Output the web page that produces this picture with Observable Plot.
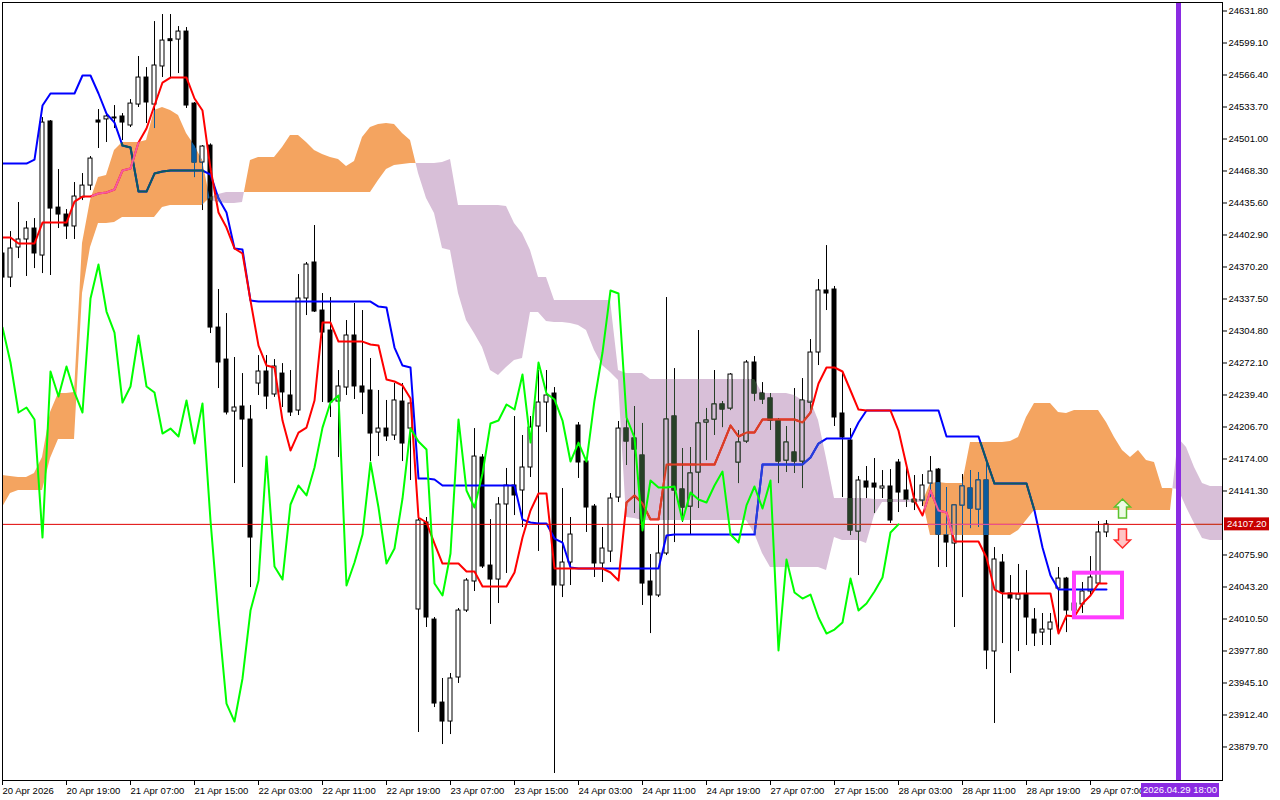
<!DOCTYPE html>
<html><head><meta charset="utf-8">
<script src="https://cdn.jsdelivr.net/npm/d3@7"></script>
<script src="https://cdn.jsdelivr.net/npm/@observablehq/plot@0.6"></script>
<style>html,body{margin:0;padding:0;background:#fff;overflow:hidden}#chart{width:1280px;height:800px}</style>
</head><body><div id="chart"></div>
<script>
// ---- Candles (H1), bar index 0..138 ----
const open = [24384.0,24359.4,24390.1,24398.3,24409.5,24381.9,24518.9,24430.9,24423.8,24411.6,
 24441.2,24453.4,24519.9,24521.0,24523.0,24524.0,24514.8,24536.2,24563.8,24536.2,
 24575.1,24603.0,24602.6,24610.8,24537.2,24477.0,24494.3,24308.3,24275.6,24222.5,
 24227.6,24214.3,24251.1,24263.4,24239.9,24261.3,24238.9,24223.5,24338.0,24374.8,
 24325.7,24305.3,24232.7,24247.0,24300.2,24248.1,24244.0,24201.0,24205.1,24198.0,
 24232.7,24205.1,24020.2,24109.1,24009.9,23925.1,23905.7,23950.7,24019.1,24048.8,
 24175.5,24065.1,24050.8,24127.5,24146.9,24141.8,24165.3,24207.2,24231.7,24240.9,
 24044.7,24068.2,24208.2,24171.4,24125.4,24067.2,24079.4,24134.6,24205.1,24194.9,
 24177.5,24048.8,24034.5,24077.4,24217.4,24142.8,24125.4,24160.2,24211.3,24214.3,
 24229.7,24225.6,24170.4,24191.9,24272.6,24240.9,24235.8,24213.3,24172.4,24180.6,
 24171.4,24231.7,24282.8,24346.2,24347.2,24220.5,24192.9,24099.9,24151.0,24148.9,
 24143.8,24145.9,24170.4,24141.8,24132.6,24131.6,24148.9,24163.2,24095.8,24087.6,
 24126.5,24143.8,24122.4,24152.0,23977.3,24068.2,24036.5,24030.4,24035.5,24009.9,
 23996.6,23999.7,24041.6,24051.8,24019.0,24025.3,24038.6,24046.7,24098.9];
const high = [24387.0,24406.4,24436.1,24416.7,24419.7,24522.9,24519.9,24469.8,24428.9,24456.5,
 24465.7,24483.1,24531.1,24527.0,24535.2,24527.0,24541.3,24585.3,24574.0,24621.0,
 24628.2,24628.2,24615.9,24614.9,24538.3,24494.3,24496.0,24347.2,24322.6,24277.7,
 24261.3,24228.6,24279.7,24279.7,24275.6,24271.5,24264.4,24362.5,24374.8,24412.6,
 24343.1,24339.0,24264.4,24315.5,24332.9,24325.7,24276.7,24244.0,24233.8,24251.1,
 24251.1,24233.8,24114.2,24114.2,24012.0,23949.7,23954.8,24021.2,24051.8,24205.1,
 24178.5,24112.1,24134.6,24164.3,24217.4,24198.0,24217.4,24264.4,24264.4,24247.0,
 24143.8,24114.2,24211.3,24173.5,24127.5,24104.0,24138.7,24212.3,24215.3,24227.6,
 24210.3,24076.4,24106.0,24339.0,24266.4,24184.7,24185.7,24305.3,24225.6,24264.4,
 24232.7,24261.3,24203.1,24274.6,24278.7,24252.1,24240.9,24215.3,24207.2,24246.0,
 24256.2,24296.1,24357.4,24392.1,24350.3,24261.3,24205.1,24156.1,24166.3,24174.5,
 24162.2,24163.2,24173.5,24169.4,24157.1,24158.1,24176.5,24164.3,24144.8,24126.5,
 24158.1,24162.2,24160.2,24169.4,24083.5,24076.4,24054.9,24066.2,24060.0,24021.2,
 24016.1,24016.1,24063.1,24053.0,24031.4,24047.8,24074.3,24110.1,24111.1];
const low = [24351.3,24349.2,24378.8,24360.5,24368.6,24363.5,24361.5,24409.5,24398.3,24398.3,
 24438.1,24448.3,24491.3,24497.4,24511.7,24499.4,24512.7,24533.2,24516.8,24511.7,
 24563.8,24563.8,24567.9,24532.2,24461.6,24427.9,24302.2,24246.0,24219.0,24148.9,
 24165.3,24042.6,24238.9,24224.5,24237.0,24226.6,24217.4,24218.4,24320.6,24323.7,
 24231.7,24216.4,24175.5,24238.9,24234.8,24219.4,24171.4,24176.5,24191.9,24192.9,
 24171.4,24152.0,23894.5,24001.8,23920.0,23882.2,23892.4,23944.6,24017.1,24038.6,
 24062.1,24004.9,24026.3,24057.0,24116.2,24104.0,24155.1,24079.5,24201.0,23852.6,
 24032.4,24044.7,24154.1,24098.9,24052.9,24047.8,24068.2,24129.5,24167.5,24118.3,
 24024.3,23995.6,24032.4,24075.3,24088.6,24109.1,24095.8,24123.4,24172.4,24198.0,
 24206.1,24223.5,24148.9,24189.8,24232.7,24229.7,24203.1,24148.9,24160.2,24159.2,
 24143.8,24220.5,24269.5,24325.7,24207.2,24134.6,24095.8,24054.9,24133.6,24118.3,
 24133.6,24108.1,24119.3,24124.4,24121.3,24125.4,24134.6,24063.1,24063.1,24001.8,
 24032.4,24102.9,24104.0,23958.8,23903.7,23985.4,23954.8,23977.2,23983.4,23982.4,
 23983.4,23983.4,23996.6,23996.6,24015.1,24016.1,24034.5,24044.7,24093.7];
const close = [24359.4,24389.1,24398.3,24409.5,24384.0,24517.8,24429.9,24423.8,24411.6,24442.2,
 24453.4,24481.0,24517.8,24524.0,24522.0,24517.8,24537.2,24563.8,24538.3,24576.1,
 24601.6,24601.0,24610.8,24535.2,24477.0,24493.3,24308.3,24272.6,24221.5,24226.6,
 24214.3,24093.7,24263.4,24237.8,24268.5,24242.0,24221.5,24338.0,24372.7,24324.7,
 24303.2,24231.7,24248.1,24300.2,24248.1,24241.9,24200.0,24205.1,24197.0,24233.8,
 24189.8,24230.7,24111.1,24012.0,23924.1,23905.7,23949.7,24019.1,24049.8,24176.5,
 24064.1,24050.8,24127.5,24146.9,24136.7,24165.3,24206.1,24231.7,24238.9,24044.7,
 24068.2,24096.8,24170.4,24124.4,24067.2,24082.5,24133.6,24205.1,24191.9,24183.7,
 24046.7,24034.5,24077.4,24214.3,24141.8,24124.4,24159.2,24210.3,24213.3,24229.7,
 24224.6,24260.3,24190.8,24272.6,24240.9,24234.8,24213.3,24171.4,24190.8,24171.4,
 24233.8,24282.8,24346.2,24343.1,24216.4,24195.9,24100.9,24152.0,24144.8,24144.8,
 24145.9,24111.1,24139.7,24132.6,24129.5,24146.9,24161.2,24096.8,24088.6,24126.5,
 24145.9,24123.4,24152.0,23978.3,24071.3,24037.5,24031.4,24035.5,24012.0,23995.6,
 23999.7,24006.9,24051.8,24019.1,24026.3,24038.6,24052.9,24098.9,24107.2];

// ---- Ichimoku lines ----
const tenkan = [24400.3,24400.3,24394.2,24394.2,24394.2,24415.6,24415.6,24415.6,24415.6,24437.1,
 24442.2,24442.2,24445.3,24446.3,24449.4,24468.8,24470.8,24497.4,24511.7,24535.2,
 24558.7,24563.8,24563.8,24563.8,24542.4,24530.1,24470.8,24425.9,24410.5,24389.1,
 24384.0,24335.9,24289.9,24269.5,24267.5,24213.3,24182.6,24201.0,24206.1,24233.7,
 24313.4,24313.4,24294.0,24294.0,24294.0,24294.0,24291.0,24289.9,24255.2,24253.2,
 24249.1,24235.8,24114.2,24109.1,24087.6,24067.2,24067.2,24067.2,24059.0,24059.0,
 24043.7,24043.7,24043.7,24043.7,24058.0,24093.7,24121.3,24138.7,24138.7,24062.1,
 24062.1,24062.1,24062.1,24062.1,24062.1,24062.1,24058.0,24049.8,24129.5,24136.7,
 24128.5,24112.1,24112.1,24168.3,24168.3,24168.3,24168.3,24168.3,24168.3,24168.3,
 24187.8,24208.2,24197.0,24201.0,24201.0,24214.3,24214.3,24214.3,24214.3,24214.3,
 24211.3,24221.5,24251.1,24267.5,24267.5,24263.4,24244.0,24224.5,24223.5,24223.5,
 24223.5,24223.5,24203.1,24167.3,24131.5,24116.2,24141.8,24121.3,24119.3,24089.7,
 24089.7,24089.7,24089.7,24073.3,24040.6,24036.5,24036.5,24036.5,24036.5,24036.5,
 24036.5,24036.5,23995.6,24014.0,24013.0,24026.3,24034.5,24046.7,24046.7];
const kijun = [24475.9,24475.9,24475.9,24475.9,24480.0,24535.2,24547.5,24547.5,24547.5,24547.5,
 24565.9,24565.9,24547.5,24527.0,24517.8,24494.3,24492.3,24447.3,24447.3,24465.7,
 24467.8,24468.8,24468.8,24468.8,24468.8,24468.8,24464.7,24440.2,24425.9,24389.1,
 24388.0,24335.9,24334.9,24334.9,24334.9,24334.9,24334.9,24334.9,24334.9,24334.9,
 24334.9,24334.9,24334.9,24334.9,24334.9,24334.9,24334.9,24329.8,24328.8,24287.9,
 24269.5,24267.5,24154.0,24154.0,24153.0,24146.9,24146.9,24146.9,24146.9,24146.9,
 24146.9,24146.9,24146.9,24146.9,24146.9,24112.1,24109.1,24108.0,24108.0,24092.7,
 24088.6,24063.1,24062.1,24062.1,24062.1,24062.1,24062.1,24062.1,24062.1,24062.1,
 24062.1,24062.1,24062.1,24095.8,24096.8,24096.8,24096.8,24096.8,24096.8,24096.8,
 24096.8,24096.8,24096.8,24096.8,24096.8,24168.3,24168.3,24168.3,24168.3,24168.3,
 24168.3,24175.5,24189.8,24194.9,24194.9,24194.9,24194.9,24211.3,24223.5,24223.5,
 24223.5,24223.5,24223.5,24223.5,24223.5,24223.5,24223.5,24223.5,24197.0,24197.0,
 24197.0,24197.0,24197.0,24172.4,24148.9,24148.9,24148.9,24148.9,24148.9,24121.3,
 24083.5,24054.9,24040.6,24040.6,24040.6,24040.6,24040.6,24040.6,24040.6];
const chikou = [24308.3,24272.6,24221.5,24226.6,24214.3,24093.7,24263.4,24237.8,24268.5,24242.0,
 24221.5,24338.0,24372.7,24324.7,24303.2,24231.7,24248.1,24300.2,24248.1,24241.9,
 24200.0,24205.1,24197.0,24233.8,24189.8,24230.7,24111.1,24012.0,23924.1,23905.7,
 23949.7,24019.1,24049.8,24176.5,24064.1,24050.8,24127.5,24146.9,24136.7,24165.3,
 24206.1,24231.7,24238.9,24044.7,24068.2,24096.8,24170.4,24124.4,24067.2,24082.5,
 24133.6,24205.1,24191.9,24183.7,24046.7,24034.5,24077.4,24214.3,24141.8,24124.4,
 24159.2,24210.3,24213.3,24229.7,24224.6,24260.3,24190.8,24272.6,24240.9,24234.8,
 24213.3,24171.4,24190.8,24171.4,24233.8,24282.8,24346.2,24343.1,24216.4,24195.9,
 24100.9,24152.0,24144.8,24144.8,24145.9,24111.1,24139.7,24132.6,24129.5,24146.9,
 24161.2,24096.8,24088.6,24126.5,24145.9,24123.4,24152.0,23978.3,24071.3,24037.5,
 24031.4,24035.5,24012.0,23995.6,23999.7,24006.9,24051.8,24019.1,24026.3,24038.6,
 24052.9,24098.9,24107.2];
// Senkou spans as displayed (already shifted), bar index 0..153
const spanA = [24157.1,24156.1,24155.1,24155.1,24159.1,24175.5,24221.5,24240.9,24240.9,24241.9,
 24394.2,24438.1,24461.6,24463.7,24489.2,24497.4,24497.4,24497.4,24499.4,24530.1,
 24533.2,24530.1,24525.0,24506.6,24494.3,24479.0,24438.1,24436.1,24435.1,24435.1,
 24436.1,24479.0,24482.1,24482.1,24482.1,24492.3,24504.5,24504.5,24497.4,24489.2,
 24485.1,24482.1,24480.0,24472.9,24478.0,24502.5,24512.7,24515.8,24516.8,24515.8,
 24506.6,24499.4,24465.7,24440.2,24424.8,24389.1,24387.0,24343.1,24315.5,24302.2,
 24287.9,24264.4,24259.3,24267.5,24274.6,24276.7,24323.7,24323.7,24314.5,24313.4,
 24313.4,24312.4,24310.4,24305.3,24284.8,24269.5,24262.4,24254.2,24114.2,24113.2,
 24111.1,24111.1,24111.1,24111.1,24111.1,24111.1,24111.1,24111.1,24111.1,24111.1,
 24111.1,24111.1,24111.1,24111.1,24097.8,24077.4,24063.1,24063.1,24063.1,24063.1,
 24063.1,24063.1,24063.1,24060.0,24093.7,24090.7,24090.7,24090.7,24087.6,24116.2,
 24129.5,24129.5,24129.5,24129.5,24129.5,24129.5,24148.9,24149.9,24148.9,24148.9,
 24148.9,24190.8,24190.8,24190.8,24190.8,24190.8,24191.8,24195.9,24216.4,24230.7,
 24230.7,24230.7,24221.5,24220.5,24223.5,24223.5,24223.5,24223.5,24211.3,24195.9,
 24182.6,24175.5,24182.6,24172.4,24170.4,24143.8,24143.8,24142.8,24124.4,24108.0,
 24092.7,24090.7,24090.7,24090.7];
const spanB = [24124.4,24138.7,24141.8,24141.8,24141.8,24141.8,24174.5,24193.9,24193.9,24193.9,
 24343.1,24390.1,24414.6,24414.6,24415.6,24420.7,24420.7,24420.7,24420.7,24420.7,
 24431.0,24433.0,24433.0,24433.0,24433.0,24433.0,24441.2,24444.3,24446.3,24446.3,
 24446.3,24446.3,24446.3,24446.3,24446.3,24446.3,24446.3,24446.3,24446.3,24446.3,
 24446.3,24446.3,24446.3,24446.3,24446.3,24446.3,24446.3,24458.6,24469.8,24473.9,
 24474.9,24475.9,24475.9,24475.9,24475.9,24477.0,24480.0,24433.0,24433.0,24433.0,
 24433.0,24433.0,24433.0,24432.0,24414.6,24404.4,24387.0,24359.4,24359.4,24335.9,
 24335.9,24335.9,24335.9,24335.9,24335.9,24335.9,24335.9,24264.4,24261.3,24261.3,
 24261.3,24255.2,24255.2,24255.2,24255.2,24255.2,24255.2,24255.2,24255.2,24255.2,
 24255.2,24255.2,24255.2,24255.2,24255.2,24240.9,24240.9,24240.9,24240.9,24238.8,
 24233.7,24233.7,24213.3,24174.5,24133.6,24133.6,24133.6,24133.6,24133.6,24132.6,
 24132.6,24132.6,24132.6,24132.6,24132.6,24132.6,24095.8,24095.8,24095.8,24095.8,
 24095.8,24095.8,24095.8,24095.8,24095.8,24095.8,24095.8,24100.9,24111.1,24121.3,
 24121.3,24121.3,24121.3,24121.3,24121.3,24121.3,24121.3,24121.3,24121.3,24121.3,
 24121.3,24121.3,24121.3,24121.3,24121.3,24121.3,24121.3,24194.9,24185.7,24165.3,
 24148.9,24145.9,24145.9,24145.9];

// ---- Axes / annotations ----
const priceTicks = [24631.8,24599.1,24566.4,24533.7,24501.0,24468.3,24435.6,24402.9,24370.2,24337.5,
 24304.8,24272.1,24239.4,24206.7,24174.0,24141.3,24075.9,24043.2,24010.5,23977.8,23945.1,23912.4,23879.7];
const timeTickBars = [0,8,16,24,32,40,48,56,64,72,80,88,96,104,112,120,128,136];
const timeTickLabels = ["20 Apr 2026","20 Apr 19:00","21 Apr 07:00","21 Apr 15:00","22 Apr 03:00","22 Apr 11:00",
 "22 Apr 19:00","23 Apr 07:00","23 Apr 15:00","24 Apr 03:00","24 Apr 11:00","24 Apr 19:00","27 Apr 07:00",
 "27 Apr 15:00","28 Apr 03:00","28 Apr 11:00","28 Apr 19:00","29 Apr 07:00"];
const lastPrice = 24107.20;
const markerBar = 147;
const markerLabel = "2026.04.29 18:00";
const boxBars = [134, 140];
const boxPrices = [24057.3, 24011.7];
const arrowBar = 140;
const arrowUpPrice = 24123.4;
const arrowDownPrice = 24092.7;

// ---- Build ----
const candles = open.map((o, i) => ({i, o, h: high[i], l: low[i], c: close[i]}));
const bull = candles.filter(d => d.c >= d.o);
const series = arr => arr.map((v, i) => ({i, v}));
const cloud = [];
for (let i = 0; i < spanA.length; i++) {
  cloud.push({i, a: spanA[i], b: spanB[i]});
  if (i + 1 < spanA.length) {
    const d0 = spanA[i] - spanB[i], d1 = spanA[i + 1] - spanB[i + 1];
    if (d0 * d1 < 0) {
      const t = d0 / (d0 - d1);
      const v = spanA[i] + t * (spanA[i + 1] - spanA[i]);
      cloud.push({i: i + t, a: v, b: v});
    }
  }
}
const cloudTop = d => Math.max(d.a, d.b);
const bw = 0.3125;
const W = 1280, H = 800, MR = 58;

const CLOUD_O = "#f4a460", CLOUD_T = "#d8bfd8";
// Palettes: normal, and the terminal's XOR look inside each cloud colour (unique strings per layer)
const PAL = {
  base: {black: "#000000", white: "#ffffff", red: "#ff0000", blue: "#0000ff", price: "#e00000"},
  inO:  {black: "#0b5b9f", white: "#f4a461", red: "#f45b9f", blue: "#0b5b60", price: "#eb5b9f"},
  inT:  {black: "#274027", white: "#d8bfd9", red: "#d84027", blue: "#2740d8", price: "#c74027"}
};
function layer(tag) {
  const p = PAL[tag];
  const body = {x1: d => d.i - bw, x2: d => d.i + bw, y1: d => Math.min(d.o, d.c), y2: d => Math.max(d.o, d.c), clip: true};
  return [
    Plot.ruleX(candles, {x: "i", y1: "l", y2: "h", stroke: p.black, strokeWidth: 1, clip: true}),
    Plot.rect(candles, {...body, fill: p.black, insetTop: -0.5, insetBottom: -0.5}),
    Plot.rect(bull, {...body, fill: p.white, insetLeft: 1, insetRight: 1, insetTop: 0.5, insetBottom: 0.5}),
    Plot.line(series(kijun), {x: "i", y: "v", stroke: p.blue, strokeWidth: 2, clip: true}),
    Plot.line(series(tenkan), {x: "i", y: "v", stroke: p.red, strokeWidth: 2, clip: true}),
    Plot.ruleY([lastPrice], {stroke: p.price, strokeWidth: 1})
  ];
}

const arrowUp = {draw(ctx) {
  ctx.moveTo(0, -9.5); ctx.lineTo(8, -1.5); ctx.lineTo(4, -1.5); ctx.lineTo(4, 9.5);
  ctx.lineTo(-4, 9.5); ctx.lineTo(-4, -1.5); ctx.lineTo(-8, -1.5); ctx.closePath();
}};
const arrowDown = {draw(ctx) {
  ctx.moveTo(0, 9.5); ctx.lineTo(8, 1.5); ctx.lineTo(4, 1.5); ctx.lineTo(4, -9.5);
  ctx.lineTo(-4, -9.5); ctx.lineTo(-4, 1.5); ctx.lineTo(-8, 1.5); ctx.closePath();
}};

const chart = Plot.plot({
  width: W, height: H,
  marginLeft: 2, marginRight: MR, marginTop: 2, marginBottom: 20,
  style: {fontFamily: "'Liberation Sans', Arial, sans-serif", fontSize: "9.5px", background: "white", color: "black", overflow: "visible"},
  x: {type: "linear", domain: [0, 152.5]},
  y: {type: "linear", domain: [23845.45, 24640.49]},
  marks: [
    Plot.frame({fill: "white"}),
    Plot.areaY(cloud, {x: "i", y1: "b", y2: cloudTop, fill: CLOUD_O, clip: true}),
    Plot.areaY(cloud, {x: "i", y1: "a", y2: cloudTop, fill: CLOUD_T, clip: true}),
    ...layer("base"),
    ...layer("inO"),
    ...layer("inT"),
    Plot.line(series(chikou), {x: "i", y: "v", stroke: "#00ff00", strokeWidth: 2, clip: true}),
    Plot.ruleX([markerBar], {stroke: "#8a2be2", strokeWidth: 5}),
    Plot.rect([{x1: boxBars[0], x2: boxBars[1], y1: boxPrices[0], y2: boxPrices[1]}],
      {x1: "x1", x2: "x2", y1: "y1", y2: "y2", fill: "none", stroke: "#ff3cff", strokeWidth: 4}),
    Plot.dot([{i: arrowBar, p: arrowUpPrice}], {x: "i", y: "p", symbol: arrowUp, fill: "#eefbe6", stroke: "#5cc22c", strokeWidth: 1.5}),
    Plot.dot([{i: arrowBar, p: arrowDownPrice}], {x: "i", y: "p", symbol: arrowDown, fill: "#ffc4c4", stroke: "#ff2a2a", strokeWidth: 1.5}),
    Plot.axisY(priceTicks, {anchor: "right", tickSize: 4, tickPadding: 2, tickFormat: d => d.toFixed(2), label: null}),
    Plot.axisX(timeTickBars, {anchor: "bottom", tickSize: 5, tickPadding: 2, textAnchor: "start",
      tickFormat: d => timeTickLabels[timeTickBars.indexOf(d)], label: null}),
    Plot.frame({stroke: "black"})
  ]
});

// Clip the recoloured layers to the cloud shapes (identified by their colour attributes)
const NS = "http://www.w3.org/2000/svg";
const kids = Array.from(chart.children);
const colorOf = el => {
  const own = (el.getAttribute("fill") || "") + "|" + (el.getAttribute("stroke") || "");
  const c = el.querySelector("[fill],[stroke]");
  return own + "|" + (c ? (c.getAttribute("fill") || "") + "|" + (c.getAttribute("stroke") || "") : "");
};
const hasColor = (el, list) => { const s = colorOf(el).toLowerCase(); return list.some(c => s.includes(c)); };
const defs = document.createElementNS(NS, "defs");
chart.insertBefore(defs, chart.firstChild);
function wrap(cloudColor, tag, id) {
  const cloudEl = kids.find(el => el.tagName.toLowerCase() === "g" && hasColor(el, [cloudColor]));
  const path = cloudEl && cloudEl.querySelector("path");
  const p = PAL[tag];
  const list = [p.black, p.white, p.red, p.blue, p.price];
  const nodes = kids.filter(el => el !== cloudEl && el.tagName.toLowerCase() === "g" && hasColor(el, list));
  if (!path || !nodes.length) return;
  const cp = document.createElementNS(NS, "clipPath");
  cp.setAttribute("id", id);
  cp.setAttribute("clipPathUnits", "userSpaceOnUse");
  const cpath = document.createElementNS(NS, "path");
  cpath.setAttribute("d", path.getAttribute("d"));
  const tr = [cloudEl.getAttribute("transform"), path.getAttribute("transform")].filter(Boolean).join(" ");
  if (tr) cpath.setAttribute("transform", tr);
  cp.appendChild(cpath);
  defs.appendChild(cp);
  const w = document.createElementNS(NS, "g");
  w.setAttribute("clip-path", `url(#${id})`);
  nodes[0].parentNode.insertBefore(w, nodes[0]);
  nodes.forEach(n => w.appendChild(n));
}
wrap(CLOUD_O, "inO", "clip-cloud-o");
wrap(CLOUD_T, "inT", "clip-cloud-t");

const svg = d3.select(chart);
const xs = chart.scale("x"), ys = chart.scale("y");
const py = ys.apply(lastPrice);
svg.append("rect").attr("x", W - MR + 2).attr("y", py - 6.5).attr("width", 45).attr("height", 13).attr("fill", "#c80000");
svg.append("text").attr("x", W - MR + 5).attr("y", py).attr("dy", "0.35em").attr("text-anchor", "start").attr("fill", "white").text(lastPrice.toFixed(2));
const mx = xs.apply(markerBar);
svg.append("rect").attr("x", mx - 37).attr("y", 783).attr("width", 78).attr("height", 14).attr("fill", "#8a2be2");
svg.append("text").attr("x", mx + 2).attr("y", 790).attr("dy", "0.35em").attr("text-anchor", "middle").attr("fill", "white").text(markerLabel);
document.getElementById("chart").appendChild(chart);
</script>
</body></html>
